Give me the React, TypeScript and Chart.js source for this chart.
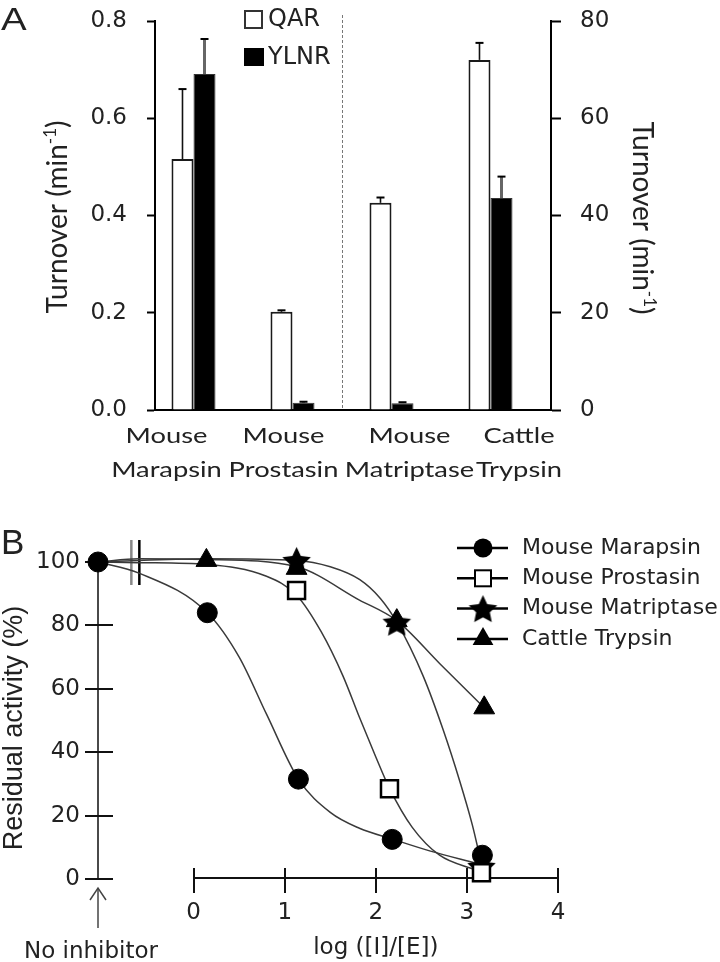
import React, { useEffect, useRef } from 'react';
import { Chart, registerables } from 'chart.js';

Chart.register(...registerables);

// ================= Panel A data =================
const categoryLines = [
  ['Mouse', 'Marapsin'],
  ['Mouse', 'Prostasin'],
  ['Mouse', 'Matriptase'],
  ['Cattle', 'Trypsin'],
];
const seriesNamesA = ['QAR', 'YLNR'];
const qarValues = [0.516, 0.202, 0.426, 0.72];
const qarErrors = [0.144, 0.003, 0.011, 0.035];
const ylnrValues = [0.691, 0.015, 0.014, 0.436];
const ylnrErrors = [0.072, 0.002, 0.002, 0.044];
const leftTicksA = [0, 0.2, 0.4, 0.6, 0.8];
const rightTicksA = [0, 20, 40, 60, 80];
const titleA = ['Turnover (min', '-1', ')'];

// ================= Panel B data =================
const xTicksB = [0, 1, 2, 3, 4];
const yTicksB = [0, 20, 40, 60, 80, 100];
const X_NO_INHIBITOR = -1.05; // left edge of the log axis: "No inhibitor"
const X_BREAK = -0.64; // axis break
const seriesNamesB = ['Mouse Marapsin', 'Mouse Prostasin', 'Mouse Matriptase', 'Cattle Trypsin'];
const xTitleB = 'log ([I]/[E])';
const yTitleB = 'Residual activity (%)';
const noInhibitorLabel = 'No inhibitor';

const marapsinMarkers = [[X_NO_INHIBITOR, 100], [0.15, 84], [1.15, 31.5], [2.18, 12.5], [3.17, 7.5]];
const prostasinMarkers = [[1.13, 91], [2.15, 28.5], [3.16, 2]];
const matriptaseMarkers = [[1.13, 100.5], [2.23, 81], [3.16, 4]];
const trypsinMarkers = [[0.14, 100.5], [1.13, 98], [2.23, 81.5], [3.19, 54]];

const marapsinCurve = [[X_NO_INHIBITOR, 100], [-0.6, 96.5], [0.15, 84], [0.5, 70], [0.8, 52], [1.15, 31.5], [1.5, 21], [1.82, 16], [2.18, 12.6], [2.6, 8.8], [3.1, 5]];
const prostasinCurve = [[X_NO_INHIBITOR, 100], [-0.6, 99.8], [0.15, 99.2], [0.8, 95.5], [1.13, 89.5], [1.4, 78], [1.64, 64], [1.82, 51], [2.0, 38.5], [2.15, 28.6], [2.4, 16.3], [2.7, 7.5], [3.1, 2.8]];
const matriptaseCurve = [[X_NO_INHIBITOR, 100], [-0.6, 100.5], [0.15, 101], [1.13, 100.5], [1.5, 98.5], [1.82, 94.5], [2.05, 88.5], [2.23, 81], [2.52, 64], [2.74, 47], [2.92, 31], [3.06, 17], [3.15, 6]];
const trypsinCurve = [[X_NO_INHIBITOR, 100], [-0.6, 101], [0.14, 100.8], [1.13, 98.5], [1.82, 88], [2.23, 81.5], [2.7, 68], [3.19, 54]];

// ================= Styles =================
const TEXT = '#222';
const TICK_FONT = { family: 'DejaVu Sans', size: 23 };
const LABEL_OFFSETS_A = [-38, -20, 7, 17.5];

const toXY = (arr: number[][]) => arr.map(([x, y]) => ({ x, y }));

function drawText(ctx: any, s: string, x: number, y: number, font: string, align: any = 'left', baseline: any = 'alphabetic', sx = 1, color = TEXT) {
  ctx.save();
  ctx.font = font;
  ctx.fillStyle = color;
  ctx.textAlign = align;
  ctx.textBaseline = baseline;
  ctx.translate(x, y);
  ctx.scale(sx, 1);
  ctx.fillText(s, 0, 0);
  ctx.restore();
}

function strokeLine(ctx: any, x1: number, y1: number, x2: number, y2: number) {
  ctx.beginPath();
  ctx.moveTo(x1, y1);
  ctx.lineTo(x2, y2);
  ctx.stroke();
}

function drawSupTitle(ctx: any, parts: string[], cx: number, cy: number, angle: number, size: number) {
  const main = `${size}px Lato`;
  const sup = `${Math.round(size * 0.6)}px Lato`;
  const segs = [
    { t: parts[0], f: main, dy: 0 },
    { t: parts[1], f: sup, dy: -size * 0.38 },
    { t: parts[2], f: main, dy: 0 },
  ];
  ctx.save();
  ctx.translate(cx, cy);
  ctx.rotate(angle);
  ctx.fillStyle = TEXT;
  ctx.textBaseline = 'alphabetic';
  ctx.textAlign = 'left';
  let w = 0;
  segs.forEach((s) => { ctx.font = s.f; w += ctx.measureText(s.t).width; });
  let x = -w / 2;
  segs.forEach((s) => { ctx.font = s.f; ctx.fillText(s.t, x, s.dy); x += ctx.measureText(s.t).width; });
  ctx.restore();
}

function makeStar(size: number) {
  const c = document.createElement('canvas');
  c.width = size;
  c.height = size;
  const g = c.getContext('2d') as CanvasRenderingContext2D;
  const R = size / 2 - 0.5;
  const r = R * 0.48;
  const cx = size / 2;
  const cy = size / 2 + R * 0.095;
  g.beginPath();
  for (let k = 0; k < 10; k++) {
    const rad = k % 2 === 0 ? R : r;
    const a = -Math.PI / 2 + (k * Math.PI) / 5;
    g.lineTo(cx + rad * Math.cos(a), cy + rad * Math.sin(a));
  }
  g.closePath();
  g.fillStyle = '#000';
  g.fill();
  return c;
}

function drawMarker(ctx: any, kind: string, x: number, y: number, star: HTMLCanvasElement) {
  ctx.save();
  if (kind === 'circle') {
    ctx.beginPath();
    ctx.arc(x, y, 9.5, 0, Math.PI * 2);
    ctx.fillStyle = '#000';
    ctx.fill();
  } else if (kind === 'rect') {
    ctx.fillStyle = '#fff';
    ctx.strokeStyle = '#000';
    ctx.lineWidth = 2;
    ctx.fillRect(x - 8, y - 8, 16, 16);
    ctx.strokeRect(x - 8, y - 8, 16, 16);
  } else if (kind === 'star') {
    ctx.drawImage(star, x - star.width / 2, y - star.height / 2);
  } else {
    const r = 12;
    ctx.beginPath();
    ctx.moveTo(x, y - r);
    ctx.lineTo(x + r * Math.sin((2 * Math.PI) / 3), y - r * Math.cos((2 * Math.PI) / 3));
    ctx.lineTo(x + r * Math.sin((4 * Math.PI) / 3), y - r * Math.cos((4 * Math.PI) / 3));
    ctx.closePath();
    ctx.fillStyle = '#000';
    ctx.fill();
  }
  ctx.restore();
}

const zeroPad = (s: any) => { s.paddingLeft = 0; s.paddingRight = 0; s.paddingTop = 0; s.paddingBottom = 0; };

// ================= Panel A plugin =================
const errorSets = [
  { values: qarValues, errors: qarErrors, color: '#111', width: 1.6 },
  { values: ylnrValues, errors: ylnrErrors, color: '#666', width: 3 },
];

const panelAPlugin = {
  id: 'panelA',
  afterDatasetsDraw(chart: any) {
    const ctx = chart.ctx;
    const y = chart.scales.y;
    errorSets.forEach((set, di) => {
      const meta = chart.getDatasetMeta(di);
      meta.data.forEach((el: any, j: number) => {
        const top = y.getPixelForValue(set.values[j] + set.errors[j]);
        ctx.save();
        ctx.strokeStyle = set.color;
        ctx.lineWidth = set.width;
        strokeLine(ctx, el.x, el.y, el.x, top);
        ctx.strokeStyle = '#000';
        ctx.lineWidth = 2;
        strokeLine(ctx, el.x - 4, top, el.x + 4, top);
        ctx.restore();
      });
    });
  },
  afterDraw(chart: any) {
    const ctx = chart.ctx;
    const ca = chart.chartArea;
    const xs = chart.scales.x;
    // dashed separator between group 2 and group 3
    const m0 = chart.getDatasetMeta(0);
    const b1 = m0.data[1].x + m0.data[1].width / 2;
    const b2 = m0.data[2].x + m0.data[2].width / 2;
    const dx = Math.round((b1 + b2) / 2) + 0.5;
    ctx.save();
    ctx.strokeStyle = '#777';
    ctx.lineWidth = 1;
    ctx.setLineDash([3, 2]);
    strokeLine(ctx, dx, ca.top - 6, dx, ca.bottom);
    ctx.restore();

    // legend
    const ds = chart.data.datasets;
    ctx.save();
    ctx.fillStyle = '#fff';
    ctx.strokeStyle = '#333';
    ctx.lineWidth = 2;
    ctx.fillRect(245, 11, 17, 17);
    ctx.strokeRect(245, 11, 17, 17);
    ctx.fillStyle = ds[1].backgroundColor;
    ctx.fillRect(244, 48, 20, 18);
    ctx.restore();
    drawText(ctx, ds[0].label, 268, 20, '24px "DejaVu Sans"', 'left', 'middle');
    drawText(ctx, ds[1].label, 268, 58, '24px "DejaVu Sans"', 'left', 'middle');

    // category labels
    categoryLines.forEach((lines, i) => {
      const cx = xs.getPixelForValue(i) + LABEL_OFFSETS_A[i];
      drawText(ctx, lines[0], cx, 443, '21px Lato', 'center', 'alphabetic', 1.3);
      drawText(ctx, lines[1], cx, 477, '21px Lato', 'center', 'alphabetic', 1.3);
    });

    // axis titles
    drawSupTitle(ctx, titleA, 67, 217, -Math.PI / 2, 28);
    drawSupTitle(ctx, titleA, 633, 218, Math.PI / 2, 28);

    // panel letter
    drawText(ctx, 'A', 1, 30, '32px "Liberation Sans"', 'left', 'alphabetic', 1.2);
  },
};

// ================= Panel B plugin =================
const legendKinds = ['circle', 'rect', 'star', 'triangle'];

function makePanelBPlugin(star: HTMLCanvasElement) {
  return {
    id: 'panelB',
    beforeDatasetsDraw(chart: any) {
      const { ctx, chartArea: ca } = chart;
      const x = chart.scales.x;
      const y = chart.scales.y;
      const y0 = y.getPixelForValue(0);
      const y100 = y.getPixelForValue(100);
      ctx.save();
      ctx.lineCap = 'butt';
      ctx.strokeStyle = '#4a4a4a';
      ctx.lineWidth = 2;
      strokeLine(ctx, ca.left, y100, ca.left, y0);
      ctx.strokeStyle = '#111';
      yTicksB.forEach((v) => {
        const py = Math.round(y.getPixelForValue(v));
        strokeLine(ctx, ca.left - 13, py, ca.left + 15, py);
      });
      const axisY = Math.round(y0) - 1;
      const xa = x.getPixelForValue(xTicksB[0]);
      const xb = x.getPixelForValue(xTicksB[xTicksB.length - 1]);
      strokeLine(ctx, xa, axisY, xb, axisY);
      xTicksB.forEach((v) => {
        const px = Math.round(x.getPixelForValue(v));
        strokeLine(ctx, px, axisY - 10, px, axisY + 15);
      });
      const bx = x.getPixelForValue(X_BREAK);
      ctx.strokeStyle = '#888';
      ctx.lineWidth = 2.5;
      strokeLine(ctx, bx - 4, y100 - 22, bx - 4, y100 + 23);
      ctx.strokeStyle = '#000';
      ctx.lineWidth = 2.5;
      strokeLine(ctx, bx + 4, y100 - 22, bx + 4, y100 + 23);
      ctx.restore();
    },
    afterDraw(chart: any) {
      const { ctx, chartArea: ca } = chart;
      const x = chart.scales.x;
      // legend
      seriesNamesB.forEach((name, i) => {
        const ly = 48 + i * 30.3;
        ctx.save();
        ctx.strokeStyle = '#000';
        ctx.lineWidth = 2.5;
        strokeLine(ctx, 457, ly, 508, ly);
        ctx.restore();
        drawMarker(ctx, legendKinds[i], 483, ly, star);
        drawText(ctx, name, 522, ly, '22px "DejaVu Sans"', 'left', 'middle');
      });
      // y title
      ctx.save();
      ctx.translate(22, 228);
      ctx.rotate(-Math.PI / 2);
      ctx.font = '27px "Liberation Sans"';
      ctx.fillStyle = TEXT;
      ctx.textAlign = 'center';
      ctx.textBaseline = 'alphabetic';
      ctx.fillText(yTitleB, 0, 0);
      ctx.restore();
      // x title
      const xc = (x.getPixelForValue(xTicksB[0]) + x.getPixelForValue(xTicksB[xTicksB.length - 1])) / 2;
      drawText(ctx, xTitleB, xc, 454, '23px "DejaVu Sans"', 'center');
      // no inhibitor arrow & label
      ctx.save();
      ctx.strokeStyle = '#444';
      ctx.lineWidth = 1.5;
      strokeLine(ctx, ca.left, 388, ca.left, 428);
      ctx.beginPath();
      ctx.moveTo(ca.left - 8, 400);
      ctx.lineTo(ca.left, 388);
      ctx.lineTo(ca.left + 8, 400);
      ctx.stroke();
      ctx.restore();
      drawText(ctx, noInhibitorLabel, ca.left - 7, 458, '23px "DejaVu Sans"', 'center');
      // panel letter
      drawText(ctx, 'B', 1, 54, '35px "Liberation Sans"', 'left');
    },
  };
}

export default function App() {
  const refA = useRef<HTMLCanvasElement>(null);
  const refB = useRef<HTMLCanvasElement>(null);

  useEffect(() => {
    Chart.defaults.font.family = 'DejaVu Sans';
    const star = makeStar(31);

    const chartA = new Chart(refA.current as HTMLCanvasElement, {
      type: 'bar',
      data: {
        labels: categoryLines.map((l) => l.join(' ')),
        datasets: [
          { label: seriesNamesA[0], data: qarValues, backgroundColor: '#fff', borderColor: '#1a1a1a', borderWidth: 2, categoryPercentage: 0.667, barPercentage: 1 },
          { label: seriesNamesA[1], data: ylnrValues, backgroundColor: '#000', borderColor: '#333', borderWidth: 1, categoryPercentage: 0.667, barPercentage: 1 },
          { label: '', data: categoryLines.map(() => null), categoryPercentage: 0.667, barPercentage: 1 },
        ],
      } as any,
      options: {
        animation: false,
        responsive: true,
        maintainAspectRatio: false,
        layout: { padding: { top: 21, left: 0, right: 0, bottom: 0 } },
        plugins: { legend: { display: false }, tooltip: { enabled: false } },
        scales: {
          x: {
            type: 'category',
            grid: { display: false, drawTicks: false },
            border: { display: true, color: '#000', width: 2 },
            ticks: { display: false },
            afterFit: (s: any) => { s.height = 90; zeroPad(s); },
          },
          y: {
            position: 'left',
            min: 0,
            max: 0.8,
            afterBuildTicks: (s: any) => { s.ticks = leftTicksA.map((v) => ({ value: v })); },
            ticks: { font: TICK_FONT, color: TEXT, padding: 20, callback: (v: any) => Number(v).toFixed(1) },
            grid: { drawOnChartArea: false, drawTicks: true, tickLength: 8, tickColor: '#000', tickWidth: 2 },
            border: { display: true, color: '#000', width: 2 },
            afterFit: (s: any) => { s.width = 155; zeroPad(s); },
          },
          y2: {
            position: 'right',
            min: 0,
            max: 80,
            afterBuildTicks: (s: any) => { s.ticks = rightTicksA.map((v) => ({ value: v })); },
            ticks: { font: TICK_FONT, color: TEXT, padding: 19, callback: (v: any) => String(v) },
            grid: { drawOnChartArea: false, drawTicks: true, tickLength: 10, tickColor: '#000', tickWidth: 2 },
            border: { display: true, color: '#000', width: 2 },
            afterFit: (s: any) => { s.width = 169; zeroPad(s); },
          },
        },
      } as any,
      plugins: [panelAPlugin as any],
    });

    const markerBase = { showLine: false, clip: false as any, pointBorderColor: '#000', borderColor: '#000' };
    const curveBase = { showLine: true, pointRadius: 0, borderColor: '#3a3a3a', borderWidth: 1.5, cubicInterpolationMode: 'monotone', capBezierPoints: false, clip: false as any, fill: false };

    const chartB = new Chart(refB.current as HTMLCanvasElement, {
      type: 'line',
      data: {
        datasets: [
          { ...markerBase, label: seriesNamesB[1], data: toXY(prostasinMarkers), pointStyle: 'rect', pointRadius: 12, pointBackgroundColor: '#fff', backgroundColor: '#fff', pointBorderWidth: 2.5 },
          { ...markerBase, label: seriesNamesB[0], data: toXY(marapsinMarkers), pointStyle: 'circle', pointRadius: 10, pointBackgroundColor: '#000', backgroundColor: '#000', pointBorderWidth: 1 },
          { ...markerBase, label: seriesNamesB[2], data: toXY(matriptaseMarkers), pointStyle: star, pointRadius: 14, pointBackgroundColor: '#000', backgroundColor: '#000', pointBorderWidth: 0 },
          { ...markerBase, label: seriesNamesB[3], data: toXY(trypsinMarkers), pointStyle: 'triangle', pointRadius: 12, pointBackgroundColor: '#000', backgroundColor: '#000', pointBorderWidth: 1 },
          { ...curveBase, label: seriesNamesB[0] + ' fit', data: toXY(marapsinCurve) },
          { ...curveBase, label: seriesNamesB[1] + ' fit', data: toXY(prostasinCurve) },
          { ...curveBase, label: seriesNamesB[2] + ' fit', data: toXY(matriptaseCurve) },
          { ...curveBase, label: seriesNamesB[3] + ' fit', data: toXY(trypsinCurve) },
        ],
      } as any,
      options: {
        animation: false,
        responsive: true,
        maintainAspectRatio: false,
        layout: { padding: { top: 62, right: 162, left: 0, bottom: 0 } },
        plugins: { legend: { display: false }, tooltip: { enabled: false } },
        scales: {
          x: {
            type: 'linear',
            min: X_NO_INHIBITOR,
            max: 4,
            afterBuildTicks: (s: any) => { s.ticks = xTicksB.map((v) => ({ value: v })); },
            ticks: { font: TICK_FONT, color: TEXT, padding: 20, callback: (v: any) => String(v) },
            grid: { display: false, drawTicks: false },
            border: { display: false },
            afterFit: (s: any) => { s.height = 83; zeroPad(s); },
          },
          y: {
            type: 'linear',
            min: 0,
            max: 100,
            afterBuildTicks: (s: any) => { s.ticks = yTicksB.map((v) => ({ value: v })); },
            ticks: { font: TICK_FONT, color: TEXT, padding: 18, callback: (v: any) => String(v) },
            grid: { display: false, drawTicks: false },
            border: { display: false },
            afterFit: (s: any) => { s.width = 98; zeroPad(s); },
          },
        },
      } as any,
      plugins: [makePanelBPlugin(star) as any],
    });

    return () => {
      chartA.destroy();
      chartB.destroy();
    };
  }, []);

  return (
    <div style={{ position: 'absolute', left: 0, top: 0, width: 720, height: 962, background: '#fff' }}>
      <div style={{ position: 'absolute', left: 0, top: 0, width: 720, height: 500 }}>
        <canvas ref={refA} />
      </div>
      <div style={{ position: 'absolute', left: 0, top: 500, width: 720, height: 462 }}>
        <canvas ref={refB} />
      </div>
    </div>
  );
}
